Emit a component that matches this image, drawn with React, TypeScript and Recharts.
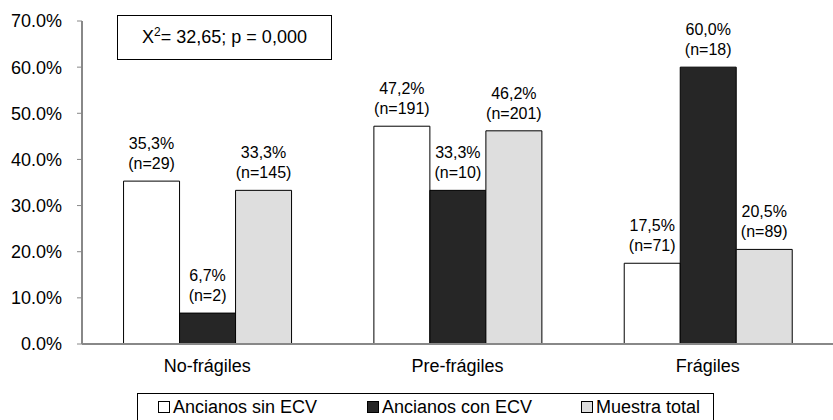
import { BarChart, Bar, XAxis, YAxis, LabelList } from 'recharts';

const categories = ['No-frágiles', 'Pre-frágiles', 'Frágiles'];
const sinEcv = [35.3, 47.2, 17.5];
const sinEcvN = [29, 191, 71];
const conEcv = [6.7, 33.3, 60.0];
const conEcvN = [2, 10, 18];
const total = [33.3, 46.2, 20.5];
const totalN = [145, 201, 89];
const yTicks = [0, 10, 20, 30, 40, 50, 60, 70];

const seriesNames = ['Ancianos sin ECV', 'Ancianos con ECV', 'Muestra total'];
const seriesFills = ['#ffffff', '#262626', '#dedede'];

const data = categories.map((name, i) => ({
  name,
  idx: i,
  sin: sinEcv[i],
  sinN: sinEcvN[i],
  con: conEcv[i],
  conN: conEcvN[i],
  tot: total[i],
  totN: totalN[i],
}));

const FONT = 'Liberation Sans, Arial, sans-serif';
const AXIS = '#888888';

const makeLabel = (nKey: string) => (props: any) => {
  const { x, y, width, value, index } = props;
  const n = (data[index] as any)[nKey];
  const cx = x + width / 2;
  return (
    <text x={cx} textAnchor="middle" fontSize={16} fontFamily={FONT} fill="#000">
      <tspan x={cx} y={y - 32}>{value.toFixed(1).replace('.', ',')}%</tspan>
      <tspan x={cx} y={y - 12}>(n={n})</tspan>
    </text>
  );
};

const App = () => {
  return (
    <div style={{ position: 'absolute', left: 0, top: 0, width: 833, height: 420, background: '#fff', overflow: 'hidden' }}>
      <BarChart
        width={833}
        height={420}
        data={data}
        margin={{ top: 21, right: 0, left: 0, bottom: 46 }}
        barCategoryGap="16.6%"
        barGap={0}
      >
        <XAxis
          xAxisId="ticks"
          type="number"
          dataKey="idx"
          domain={[0, 3]}
          ticks={[1, 2]}
          height={0}
          axisLine={false}
          tickLine={{ stroke: AXIS }}
          tickSize={5}
          tickFormatter={() => ''}
        />
        <XAxis
          dataKey="name"
          height={30}
          axisLine={{ stroke: AXIS, strokeWidth: 2 }}
          tickLine={false}
          tick={{ fill: '#000', fontSize: 18, fontFamily: FONT }}
          dy={7}
        />
        <YAxis
          width={82}
          domain={[0, 70]}
          ticks={yTicks}
          interval={0}
          axisLine={{ stroke: AXIS, strokeWidth: 2 }}
          tickLine={{ stroke: AXIS }}
          tickSize={5}
          tickMargin={15}
          tick={{ fill: '#000', fontSize: 18, fontFamily: FONT }}
          tickFormatter={(v) => `${v.toFixed(1)}%`}
        />
        <Bar dataKey="sin" fill={seriesFills[0]} stroke="#000" strokeWidth={1} isAnimationActive={false}>
          <LabelList dataKey="sin" content={makeLabel('sinN')} />
        </Bar>
        <Bar dataKey="con" fill={seriesFills[1]} stroke="#000" strokeWidth={1} isAnimationActive={false}>
          <LabelList dataKey="con" content={makeLabel('conN')} />
        </Bar>
        <Bar dataKey="tot" fill={seriesFills[2]} stroke="#000" strokeWidth={1} isAnimationActive={false}>
          <LabelList dataKey="tot" content={makeLabel('totN')} />
        </Bar>
      </BarChart>
      <div
        style={{
          position: 'absolute',
          left: 117,
          top: 15,
          width: 215,
          height: 45,
          border: '1px solid #000',
          boxSizing: 'border-box',
          display: 'flex',
          alignItems: 'center',
          justifyContent: 'center',
          fontFamily: FONT,
          fontSize: 18,
        }}
      >
        <span>
          X<sup style={{ fontSize: 12, verticalAlign: 'super', lineHeight: 0 }}>2</sup>= 32,65; p = 0,000
        </span>
      </div>
      <div
        style={{
          position: 'absolute',
          left: 137,
          top: 393,
          width: 577,
          height: 40,
          border: '1px solid #000',
          boxSizing: 'border-box',
          fontFamily: FONT,
          fontSize: 18,
        }}
      >
        {seriesNames.map((s, i) => (
          <div
            key={s}
            style={{
              position: 'absolute',
              left: [20, 229, 443][i],
              top: 3,
              display: 'flex',
              alignItems: 'center',
              whiteSpace: 'nowrap',
              lineHeight: '20px',
            }}
          >
            <span
              style={{
                display: 'inline-block',
                width: 10,
                height: 10,
                border: '1px solid #000',
                background: seriesFills[i],
                marginRight: 3,
              }}
            />
            {s}
          </div>
        ))}
      </div>
    </div>
  );
};

export default App;
